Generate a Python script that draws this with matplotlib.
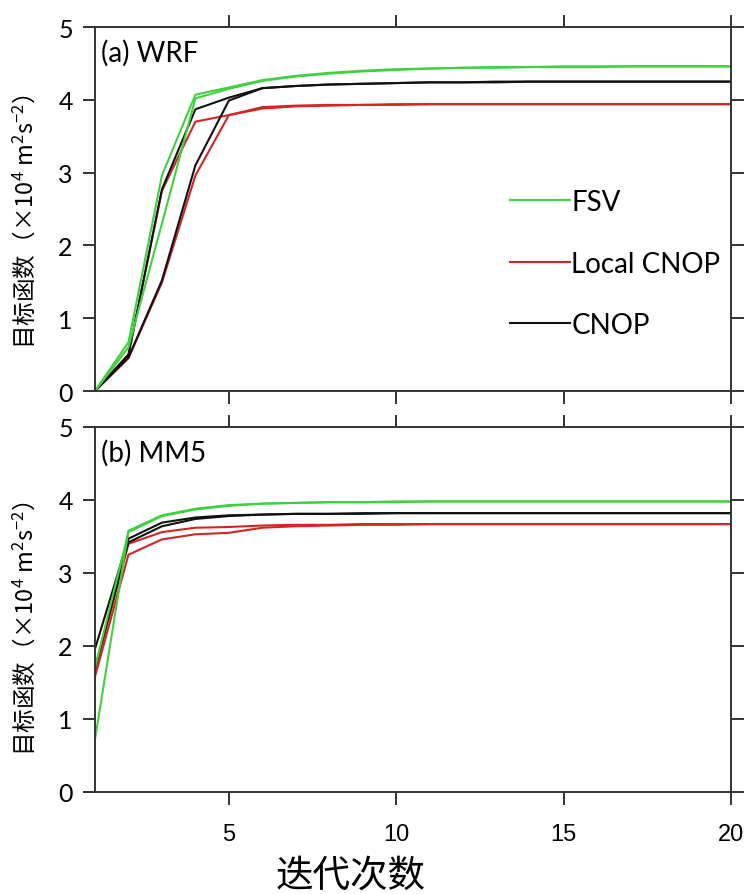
import matplotlib
matplotlib.use('Agg')
import matplotlib.pyplot as plt
import numpy as np

# iteration number
iters = np.arange(1, 21)

# (a) WRF, two runs per method
wrf_fsv_1 = [0, 0.67, 2.96, 4.07, 4.17, 4.27, 4.33, 4.37, 4.40, 4.42,
             4.43, 4.44, 4.45, 4.45, 4.46, 4.46, 4.46, 4.46, 4.46, 4.46]
wrf_fsv_2 = [0, 0.60, 2.30, 4.02, 4.15, 4.26, 4.32, 4.36, 4.39, 4.41,
             4.43, 4.44, 4.44, 4.45, 4.45, 4.45, 4.46, 4.46, 4.46, 4.46]
wrf_local_1 = [0, 0.50, 2.75, 3.70, 3.79, 3.90, 3.92, 3.93, 3.93, 3.94,
               3.94, 3.94, 3.94, 3.94, 3.94, 3.94, 3.94, 3.94, 3.94, 3.94]
wrf_local_2 = [0, 0.45, 1.49, 2.96, 3.79, 3.88, 3.91, 3.92, 3.93, 3.93,
               3.94, 3.94, 3.94, 3.94, 3.94, 3.94, 3.94, 3.94, 3.94, 3.94]
wrf_cnop_1 = [0, 0.50, 2.77, 3.87, 4.03, 4.16, 4.19, 4.21, 4.22, 4.23,
              4.24, 4.24, 4.25, 4.25, 4.25, 4.25, 4.25, 4.25, 4.25, 4.25]
wrf_cnop_2 = [0, 0.46, 1.52, 3.10, 3.99, 4.16, 4.19, 4.21, 4.22, 4.23,
              4.24, 4.24, 4.24, 4.25, 4.25, 4.25, 4.25, 4.25, 4.25, 4.25]

# (b) MM5
mm5_fsv_1 = [0.72, 3.58, 3.79, 3.88, 3.93, 3.95, 3.96, 3.97, 3.97, 3.98,
             3.98, 3.98, 3.98, 3.98, 3.98, 3.98, 3.98, 3.98, 3.98, 3.98]
mm5_fsv_2 = [1.70, 3.56, 3.78, 3.87, 3.92, 3.95, 3.96, 3.97, 3.97, 3.97,
             3.98, 3.98, 3.98, 3.98, 3.98, 3.98, 3.98, 3.98, 3.98, 3.98]
mm5_local_1 = [1.65, 3.40, 3.56, 3.62, 3.63, 3.65, 3.66, 3.66, 3.67, 3.67,
               3.67, 3.67, 3.67, 3.67, 3.67, 3.67, 3.67, 3.67, 3.67, 3.67]
mm5_local_2 = [1.58, 3.25, 3.46, 3.53, 3.55, 3.62, 3.64, 3.65, 3.66, 3.66,
               3.67, 3.67, 3.67, 3.67, 3.67, 3.67, 3.67, 3.67, 3.67, 3.67]
mm5_cnop_1 = [1.96, 3.47, 3.69, 3.76, 3.79, 3.80, 3.81, 3.81, 3.82, 3.82,
              3.82, 3.82, 3.82, 3.82, 3.82, 3.82, 3.82, 3.82, 3.82, 3.82]
mm5_cnop_2 = [1.70, 3.42, 3.64, 3.74, 3.78, 3.80, 3.81, 3.81, 3.81, 3.82,
              3.82, 3.82, 3.82, 3.82, 3.82, 3.82, 3.82, 3.82, 3.82, 3.82]

labels = ['FSV', 'Local CNOP', 'CNOP']
colors = ['#3dd23d', '#d42424', '#111111']
panel_titles = ['(a) WRF', '(b) MM5']
xticks = [5, 10, 15, 20]
yticks = [0, 1, 2, 3, 4, 5]

plt.rcParams['font.family'] = ['Lato', 'DejaVu Sans']
plt.rcParams['mathtext.fontset'] = 'custom'
plt.rcParams['mathtext.rm'] = 'Noto Sans CJK SC'
plt.rcParams['mathtext.default'] = 'rm'

fig = plt.figure(figsize=(7.45, 8.95), dpi=100)
ax_a = fig.add_axes([0.1275, 0.562, 0.8537, 0.4067])
ax_b = fig.add_axes([0.1275, 0.114, 0.8537, 0.4078])

panels = [
    (ax_a, [(wrf_fsv_1, wrf_fsv_2), (wrf_local_1, wrf_local_2), (wrf_cnop_1, wrf_cnop_2)]),
    (ax_b, [(mm5_fsv_1, mm5_fsv_2), (mm5_local_1, mm5_local_2), (mm5_cnop_1, mm5_cnop_2)]),
]
ylabel_y = [0.752, 0.298]

for i, (ax, series) in enumerate(panels):
    # red and black first, green on top
    for k in [1, 2, 0]:
        run1, run2 = series[k]
        ax.plot(iters, run1, color=colors[k], lw=1.5, label=labels[k])
        ax.plot(iters, run2, color=colors[k], lw=1.5)
    ax.set_xlim(1, 20)
    ax.set_ylim(0, 5)
    ax.set_xticks(xticks)
    ax.set_yticks(yticks)
    ax.tick_params(direction='out', top=True, right=True, length=9, width=1.4,
                   color='#333333')
    ax.tick_params(axis='y', labelsize=18, pad=7)
    ax.tick_params(axis='x', labelsize=17, pad=13)
    for lab in ax.get_xticklabels():
        lab.set_family(['Liberation Sans Narrow', 'Liberation Sans'])
    for sp in ax.spines.values():
        sp.set_linewidth(1.4)
        sp.set_color('#333333')
    ax.text(0.01, 0.931, panel_titles[i], transform=ax.transAxes,
            fontsize=20, va='center', ha='left')
    fig.text(0.032, ylabel_y[i],
             '目标函数（×10$^{4}$ m$^{2}$s$^{-2}$）', rotation=90,
             ha='center', va='center', fontsize=17,
             family=['Noto Sans CJK SC', 'DejaVu Sans'])

ax_a.tick_params(axis='x', labelbottom=False)

handles, labs = ax_a.get_legend_handles_labels()
order = [labs.index(l) for l in labels]
ax_a.legend([handles[j] for j in order], labels, loc='upper left',
            bbox_to_anchor=(0.6525, 0.555), frameon=False, fontsize=20,
            handlelength=2.16, handletextpad=0.05, labelspacing=1.28,
            borderpad=0, borderaxespad=0)

fig.text(0.47, 0.021, '迭代次数', ha='center', va='center', fontsize=27,
         family=['Noto Sans CJK SC', 'DejaVu Sans'])

fig.savefig('out.png', dpi=100)
